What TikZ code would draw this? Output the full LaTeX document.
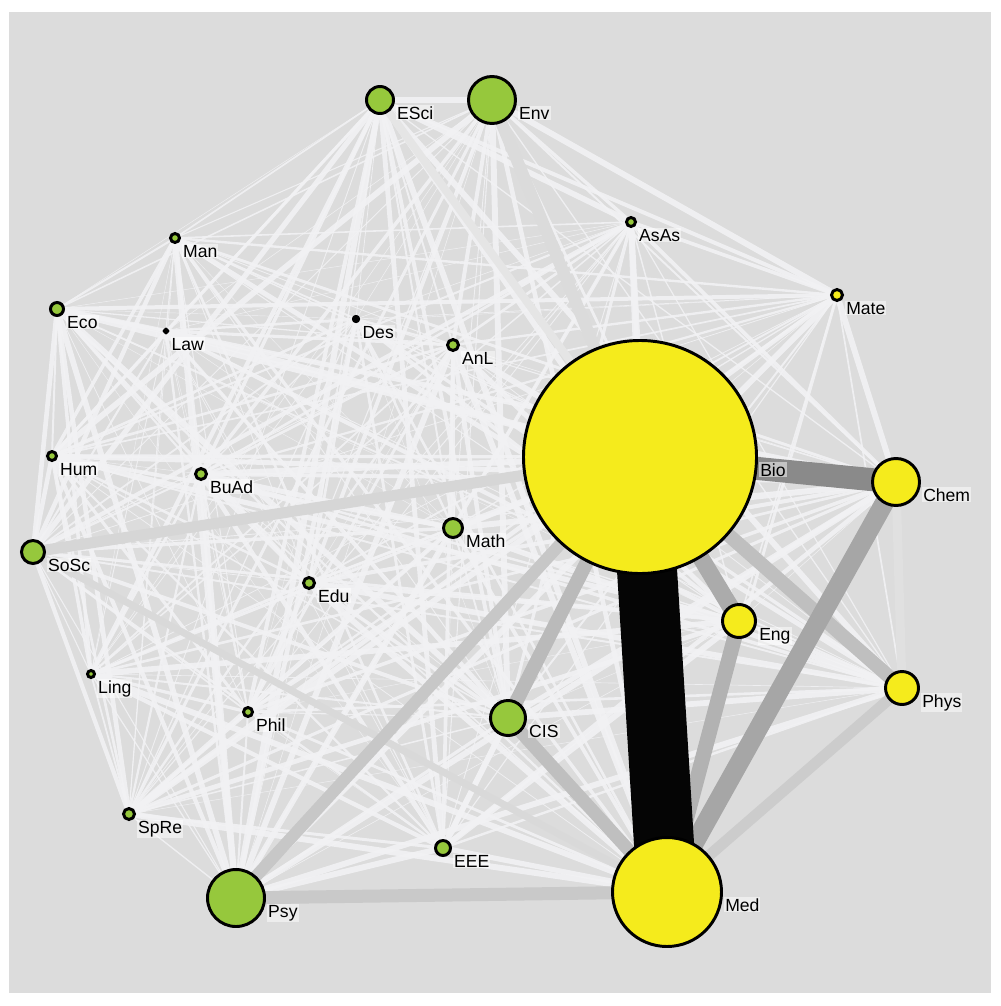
\documentclass[tikz,border=0pt]{standalone}
\usepackage{fontspec}
\setmainfont{Liberation Sans}
\usetikzlibrary{backgrounds}
\definecolor{leaf}{HTML}{96C83C}
\definecolor{lemon}{HTML}{F5EB1C}
\definecolor{canvas}{HTML}{DCDCDC}
\definecolor{tie}{HTML}{F2F2F4}
% name/x/y/outer radius/fill, all in pixels
\def\fields{ESci/380/100/15/leaf, Env/492/100/25/leaf, AsAs/631/222/6/leaf, Man/175/238/6/leaf,
  Mate/837/295/7/lemon, Eco/57/309/8/leaf, Law/166/331/3/black, Des/356/319/4/black,
  AnL/453/345/7/leaf, Bio/640/457/118/lemon, Hum/52/456/6/leaf, BuAd/201/474/7/leaf,
  Chem/896/482/25/lemon, Math/453/528/11/leaf, SoSc/33/552/13/leaf, Edu/309/583/7/leaf,
  Eng/739/621/18/lemon, Ling/91/674/5/leaf, Phys/902/688/18/lemon, Phil/248/712/6/leaf,
  CIS/508/718/19/leaf, SpRe/129/814/7/leaf, EEE/443/848/9/leaf, Psy/236/898/30/leaf,
  Med/667/892/56/lemon}

\begin{document}
\begin{tikzpicture}[x=0.025cm, y=-0.025cm, font=\fontsize{12.5}{14}\selectfont,
    disc/.style={circle, draw=black, line width=2.1pt, inner sep=0pt},
    lab/.style={anchor=base west, inner sep=0.7pt, fill=white, fill opacity=0.5, text opacity=1},
    weak/.style={tie, draw opacity=0.9},
    heavy/.style={line cap=butt}]
\useasboundingbox (0,0) rectangle (1000,1006);
% disciplines
\foreach \n/\x/\y/\r/\c in \fields
  \node[disc, fill=\c, minimum size={(2*\r-3)*0.025cm}] (\n) at (\x,\y) {};
\node[circle, fill=black, inner sep=0pt, minimum size=0.15cm] (Law) at (166,331) {};
\node[circle, fill=black, inner sep=0pt, minimum size=0.2cm] (Des) at (356,319) {};
\foreach \n/\x/\y/\r/\c in \fields
  \node[lab] (\n-lab) at ([xshift=0.025cm, yshift=-0.475cm]\n.east) {\n};

\begin{scope}[on background layer]
  \fill[white] (0,0) rectangle (1000,1006);
  \fill[canvas] (9,12) rectangle (991,993);
  % every pair of fields
  \pgfmathsetseed{11}
  \foreach \a/\xa/\ya/\ra/\ca [count=\i] in \fields {
    \foreach \b/\xb/\yb/\rb/\cb [count=\j] in \fields {
      \ifnum\j>\i
        \pgfmathsetmacro\w{0.3+0.7113*min(5.5,0.6*sqrt(\ra*\rb)*rnd^1.5)}
        \draw[weak, line width=\w pt] (\a.center) -- (\b.center);
      \fi
    }
  }
  % strongest links, lightest first
  \foreach \a/\b/\s/\k in {ESci/Bio/8/10, Chem/Phys/9/12, Env/Bio/12/14, SoSc/Med/7/15,
      SoSc/Bio/11/16, Phys/Med/11/20, Psy/Med/13/21, Psy/Bio/12/22, CIS/Med/13/25,
      Bio/Phys/14/25, Bio/CIS/14/27, Eng/Med/15/30, Bio/Eng/17/33, Chem/Med/19/35,
      Bio/Chem/23/46, Bio/Med/60/98} {
    \pgfmathsetmacro\w{0.7113*\s}
    \draw[heavy, black!\k, line width=\w pt] (\a.center) -- (\b.center);
  }
\end{scope}
\end{tikzpicture}
\end{document}
